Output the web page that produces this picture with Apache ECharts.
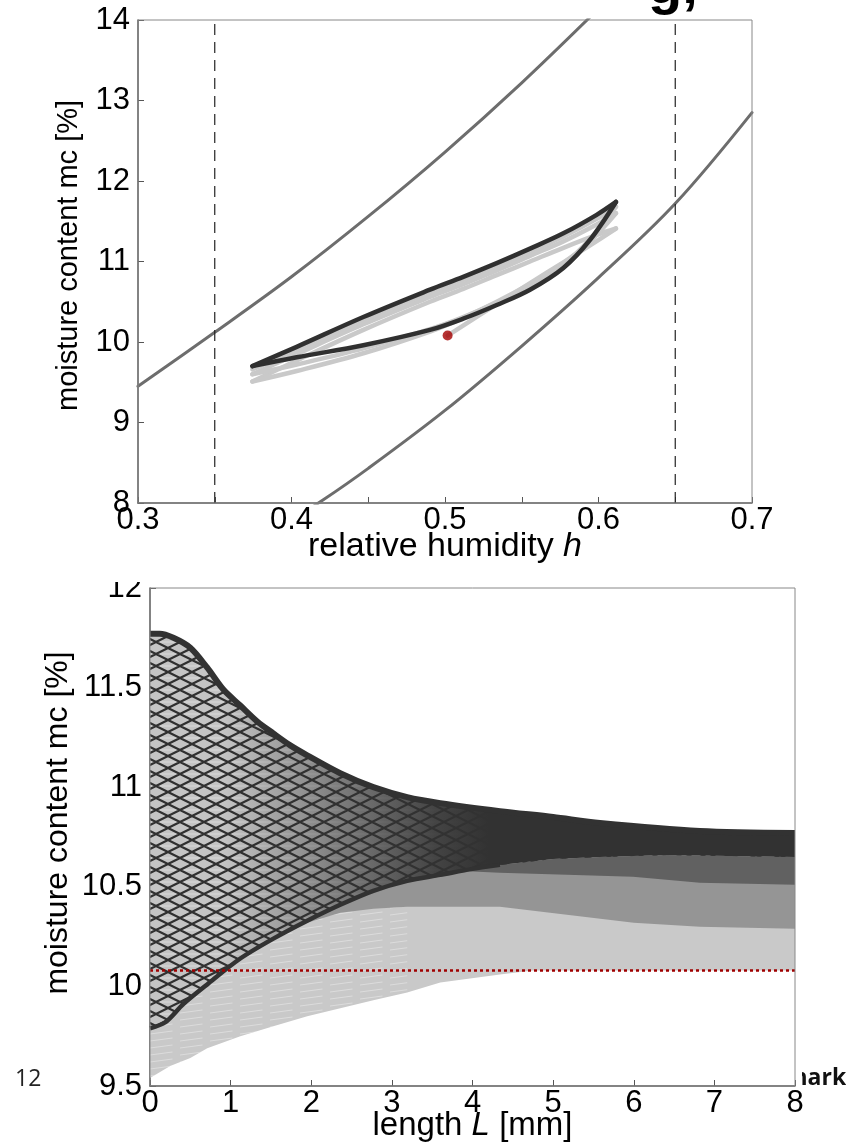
<!DOCTYPE html>
<html>
<head>
<meta charset="utf-8">
<script src="https://cdn.jsdelivr.net/npm/echarts/dist/echarts.min.js"></script>
<style>
  html, body { margin: 0; padding: 0; background: #fff; }
  #chart { width: 846px; height: 1142px; }
</style>
</head>
<body>
<div id="chart"></div>
<script>
// ---------- upper panel: moisture content vs relative humidity ----------
// boundary sorption isotherms
const desorptionIsoH  = [0.30, 0.35, 0.40, 0.45, 0.50, 0.55, 0.60];
const desorptionIsoMc = [9.45, 10.12, 10.81, 11.56, 12.36, 13.22, 14.14];
const adsorptionIsoH  = [0.40, 0.42, 0.45, 0.50, 0.55, 0.60, 0.65, 0.70];
const adsorptionIsoMc = [7.79, 8.03, 8.43, 9.15, 9.95, 10.80, 11.72, 12.85];

// humidity limits of the cycle
const hLimits = [0.35, 0.65];

// starting state
const initH = 0.5017;
const initMc = 10.08;

// scanning curves: first rise from the starting state
const firstRiseH  = [0.5017, 0.5337, 0.5554, 0.5771, 0.5945, 0.6114];
const firstRiseMc = [10.08, 10.47, 10.73, 10.99, 11.20, 11.41];

// humidity points of the drying (h falling) and wetting (h rising) branches
const dryH = [0.6114, 0.5988, 0.5771, 0.5554, 0.5337, 0.5119, 0.4902, 0.4468, 0.4034, 0.3745];
const wetH = [0.3745, 0.4034, 0.4468, 0.4902, 0.5119, 0.5337, 0.5554, 0.5771, 0.5945, 0.6114];

// earlier cycles (light)
const dry1Mc = [11.41, 11.33, 11.17, 11.00, 10.83, 10.66, 10.50, 10.15, 9.77, 9.51];
const wet1Mc = [9.51, 9.64, 9.86, 10.13, 10.30, 10.50, 10.72, 10.98, 11.25, 11.60];
const dry2Mc = [11.60, 11.46, 11.25, 11.07, 10.89, 10.72, 10.56, 10.22, 9.85, 9.60];
const wet2Mc = [9.60, 9.72, 9.92, 10.16, 10.31, 10.49, 10.70, 10.96, 11.28, 11.68];
const dry3Mc = [11.68, 11.53, 11.31, 11.12, 10.94, 10.77, 10.61, 10.27, 9.90, 9.66];

// stationary cycle (dark)
const wetLastMc = [9.70, 9.81, 9.96, 10.15, 10.29, 10.46, 10.65, 10.92, 11.27, 11.74];
const dryLastMc = [11.74, 11.58, 11.35, 11.16, 10.98, 10.81, 10.65, 10.31, 9.94, 9.70];

// ---------- lower panel: moisture profiles over depth ----------
// upper envelope of all profiles
const topL  = [0, 0.12, 0.29, 0.5, 0.71, 0.91, 1.12, 1.33, 1.53, 1.74, 1.95, 2.36, 2.77, 3.19, 3.6, 4.34, 5.0, 5.58, 6.82, 8];
const topMc = [11.77, 11.77, 11.75, 11.70, 11.60, 11.49, 11.41, 11.33, 11.27, 11.21, 11.16, 11.07, 11.00, 10.95, 10.92, 10.88, 10.85, 10.82, 10.78, 10.77];
// lower edge of the stationary-cycle profiles
const cycleLowL  = [0, 0.19, 0.41, 0.71, 1.12, 1.53, 1.95, 2.36, 2.77, 3.19, 3.6, 4.0, 4.34, 5.0, 5.58, 6.41, 8];
const cycleLowMc = [9.79, 9.82, 9.91, 10.01, 10.14, 10.24, 10.33, 10.41, 10.48, 10.53, 10.56, 10.59, 10.61, 10.64, 10.65, 10.66, 10.65];
// lower edge of the third cycle
const cycle3LowL  = [3.8, 4.34, 5.17, 5.99, 6.82, 8];
const cycle3LowMc = [10.58, 10.57, 10.56, 10.55, 10.52, 10.51];
// lower edge of the second cycle
const cycle2LowL  = [1.7, 1.95, 2.36, 2.77, 3.19, 3.6, 4.34, 5.17, 6.0, 6.82, 8];
const cycle2LowMc = [10.28, 10.32, 10.37, 10.39, 10.40, 10.40, 10.40, 10.36, 10.32, 10.30, 10.29];
// lower edge of the first cycle
const cycle1LowL  = [0, 0.25, 0.5, 0.71, 1.12, 1.53, 1.95, 2.36, 2.77, 3.19, 3.6, 4.34, 4.75, 5.58, 8];
const cycle1LowMc = [9.54, 9.60, 9.64, 9.69, 9.75, 9.80, 9.85, 9.89, 9.93, 9.97, 10.02, 10.06, 10.08, 10.08, 10.08];

const FONT = '"Liberation Sans", Arial, sans-serif';

const pairs = (xs, ys) => xs.map((x, i) => [x, ys[i]]);
const upTo = (pts, lmax) => pts.filter(p => p[0] <= lmax + 1e-9);
const from = (pts, lmin) => pts.filter(p => p[0] >= lmin - 1e-9);

// crosshatch tile for the dense family of profiles
function meshTile() {
  const W = 24, H = 12;
  const c = document.createElement('canvas');
  c.width = W; c.height = H;
  const g = c.getContext('2d');
  g.fillStyle = '#c4c4c4';
  g.fillRect(0, 0, W, H);
  g.strokeStyle = 'rgba(255,255,255,0.4)';
  g.lineWidth = 1;
  g.beginPath(); g.moveTo(0, H * 0.5); g.lineTo(W, H * 0.5); g.stroke();
  g.strokeStyle = '#303030';
  g.lineWidth = 2.2;
  for (let k = -1; k <= 1; k++) {
    g.beginPath();
    g.moveTo(k * W - W, -H); g.lineTo(k * W + 2 * W, 2 * H);
    g.moveTo(k * W - W, 2 * H); g.lineTo(k * W + 2 * W, -H);
    g.stroke();
  }
  return c;
}
// faint streaks of the early light profiles
function streakTile() {
  const W = 30, H = 7;
  const c = document.createElement('canvas');
  c.width = W; c.height = H;
  const g = c.getContext('2d');
  g.strokeStyle = 'rgba(255,255,255,0.35)';
  g.lineWidth = 1.1;
  g.beginPath(); g.moveTo(0, H - 2); g.lineTo(W * 0.75, 2); g.stroke();
  return c;
}
const meshPattern = { image: meshTile(), repeat: 'repeat' };
const streakPattern = { image: streakTile(), repeat: 'repeat' };

// filled region between two depth curves, drawn through the lower panel's axes
function band(topPts, bottomPts, fill, z) {
  return {
    type: 'custom', xAxisIndex: 1, yAxisIndex: 1, z: z, silent: true, clip: true,
    data: [[0, 10]],
    renderItem: function (params, api) {
      const pts = topPts.map(p => api.coord(p));
      for (let i = bottomPts.length - 1; i >= 0; i--) pts.push(api.coord(bottomPts[i]));
      return {
        type: 'polygon',
        shape: { points: pts },
        style: { fill: typeof fill === 'function' ? fill(api) : fill }
      };
    }
  };
}

function curve(xs, ys, color, width, z) {
  return {
    type: 'line', xAxisIndex: 0, yAxisIndex: 0, data: pairs(xs, ys),
    showSymbol: false, symbol: 'none', smooth: 0.35, silent: true, z: z,
    lineStyle: { color: color, width: width, cap: 'round', join: 'round' }
  };
}

const topPts = pairs(topL, topMc);
const cycleLowPts = pairs(cycleLowL, cycleLowMc);
const cycle3Pts = pairs(cycle3LowL, cycle3LowMc);
const cycle2Pts = pairs(cycle2LowL, cycle2LowMc);
const cycle1Pts = pairs(cycle1LowL, cycle1LowMc);

const tickLabel = { fontSize: 31, color: '#000', fontFamily: FONT };
function richName(size) {
  return {
    fontSize: size, color: '#000', fontFamily: FONT,
    rich: {
      a: { fontSize: size, color: '#000', fontFamily: FONT },
      b: { fontSize: size, color: '#000', fontFamily: FONT, fontStyle: 'italic' }
    }
  };
}
const axisLine = { show: true, lineStyle: { color: '#555', width: 1.5 } };
const axisTick = { show: true, inside: true, length: 6, lineStyle: { color: '#555', width: 1 } };

const series = [
  // upper panel
  curve(desorptionIsoH, desorptionIsoMc, '#6d6d6d', 3, 2),
  curve(adsorptionIsoH, adsorptionIsoMc, '#6d6d6d', 3, 2),
  ...hLimits.map(h => ({
    type: 'line', xAxisIndex: 0, yAxisIndex: 0, data: [[h, 8], [h, 14]],
    symbol: 'none', silent: true, z: 2,
    lineStyle: { color: '#222', width: 1.2, type: [11, 7] }
  })),
  curve(firstRiseH, firstRiseMc, '#c9c9c9', 4.5, 3),
  curve(dryH, dry1Mc, '#c9c9c9', 4.5, 3),
  curve(wetH, wet1Mc, '#c9c9c9', 4.5, 3),
  curve(dryH, dry2Mc, '#c9c9c9', 4.5, 3),
  curve(wetH, wet2Mc, '#c9c9c9', 4.5, 3),
  curve(dryH, dry3Mc, '#c9c9c9', 4.5, 3),
  curve(wetH, wetLastMc, '#303030', 4.5, 4),
  curve(dryH, dryLastMc, '#303030', 4.5, 4),
  {
    type: 'scatter', xAxisIndex: 0, yAxisIndex: 0, data: [[initH, initMc]],
    symbolSize: 10, silent: true, z: 6, itemStyle: { color: '#a40000' }
  },

  // lower panel
  band(topPts, cycle1Pts, '#c9c9c9', 1),
  band(upTo(cycleLowPts, 3.19), upTo(cycle1Pts, 3.19), streakPattern, 2),
  band(from(topPts, 1.74), cycle2Pts, '#959595', 3),
  band(from(topPts, 3.6), cycle3Pts, '#616161', 4),
  band(topPts, cycleLowPts, meshPattern, 5),
  band(topPts, cycleLowPts, function (api) {
    const x0 = api.coord([0.9, 10])[0];
    const x1 = api.coord([4.2, 10])[0];
    return new echarts.graphic.LinearGradient(x0, 0, x1, 0, [
      { offset: 0, color: 'rgba(50,50,50,0)' },
      { offset: 0.45, color: 'rgba(50,50,50,0.5)' },
      { offset: 0.8, color: 'rgba(50,50,50,0.88)' },
      { offset: 1, color: 'rgba(50,50,50,1)' }
    ], true);
  }, 6),
  {
    type: 'line', xAxisIndex: 1, yAxisIndex: 1, data: topPts, symbol: 'none', silent: true,
    smooth: 0.3, z: 7, lineStyle: { color: '#323232', width: 6 }
  },
  {
    type: 'line', xAxisIndex: 1, yAxisIndex: 1, data: upTo(cycleLowPts, 4.34), symbol: 'none', silent: true,
    smooth: 0.3, z: 7, lineStyle: { color: '#323232', width: 4.5 }
  },
  {
    type: 'line', xAxisIndex: 1, yAxisIndex: 1, data: [[0, initMc], [8, initMc]], symbol: 'none', silent: true,
    z: 8, lineStyle: { color: '#a00000', width: 2.5, type: [3, 3] }
  }
];

const chart = echarts.init(document.getElementById('chart'), null, { renderer: 'canvas', width: 846, height: 1142 });
chart.setOption({
  animation: false,
  backgroundColor: '#fff',
  grid: [
    { left: 138, top: 20, width: 614, height: 483, show: true, borderColor: '#888', borderWidth: 1, z: 10, outerBoundsMode: 'none' },
    { left: 150, top: 588, width: 645, height: 498, show: true, borderColor: '#888', borderWidth: 1, z: 10, outerBoundsMode: 'none' }
  ],
  xAxis: [
    {
      gridIndex: 0, type: 'value', min: 0.3, max: 0.7, interval: 0.05,
      axisLine: axisLine, axisTick: axisTick, splitLine: { show: false },
      axisLabel: Object.assign({ margin: 2, formatter: v => { const r = Math.round(v * 100); return r % 10 === 0 ? (r / 100).toFixed(1) : ''; } }, tickLabel),
      name: '{a|relative humidity }{b|h}', nameLocation: 'middle', nameGap: 27, nameMoveOverlap: false,
      nameTextStyle: richName(34)
    },
    {
      gridIndex: 1, type: 'value', min: 0, max: 8, interval: 1,
      axisLine: axisLine, axisTick: axisTick, splitLine: { show: false },
      axisLabel: Object.assign({ margin: 2 }, tickLabel),
      name: '{a|length }{b|L}{a| [mm]}', nameLocation: 'middle', nameGap: 23, nameMoveOverlap: false,
      nameTextStyle: richName(33)
    }
  ],
  yAxis: [
    {
      gridIndex: 0, type: 'value', min: 8, max: 14, interval: 1,
      axisLine: axisLine, axisTick: axisTick, splitLine: { show: false },
      axisLabel: Object.assign({ margin: 8 }, tickLabel),
      name: 'moisture content mc [%]', nameLocation: 'middle', nameGap: 55, nameMoveOverlap: false,
      nameTextStyle: { fontSize: 29, color: '#000', fontFamily: FONT, padding: [0, 0, 0, 12] }
    },
    {
      gridIndex: 1, type: 'value', min: 9.5, max: 12, interval: 0.5,
      axisLine: axisLine, axisTick: axisTick, splitLine: { show: false },
      axisLabel: Object.assign({ margin: 8 }, tickLabel),
      name: 'moisture content mc [%]', nameLocation: 'middle', nameGap: 76, nameMoveOverlap: false,
      nameTextStyle: { fontSize: 32, color: '#000', fontFamily: FONT, padding: [0, 0, 0, 28] }
    }
  ],
  graphic: [
    // page text around the figure
    { type: 'text', x: 648, y: -12, z: -10, style: { text: 'g,', font: 'bold 56px ' + FONT, fill: '#000', verticalAlign: 'middle' } },
    { type: 'text', x: 15, y: 1079, z: -10, style: { text: '12', font: '23px "Open Sans", sans-serif', fill: '#222', verticalAlign: 'middle' } },
    { type: 'text', x: 785, y: 1078, z: -10, style: { text: 'mark', font: 'bold 23px "Open Sans", sans-serif', fill: '#111', verticalAlign: 'middle' } },
    { type: 'rect', z: -9, shape: { x: 770, y: 1060, width: 32, height: 34 }, style: { fill: '#fff' } },
    // top of the lower panel is trimmed by the upper panel
    { type: 'rect', z: 100, shape: { x: 90, y: 566, width: 56, height: 16 }, style: { fill: '#fff' } }
  ],
  series: series
});
</script>
</body>
</html>
